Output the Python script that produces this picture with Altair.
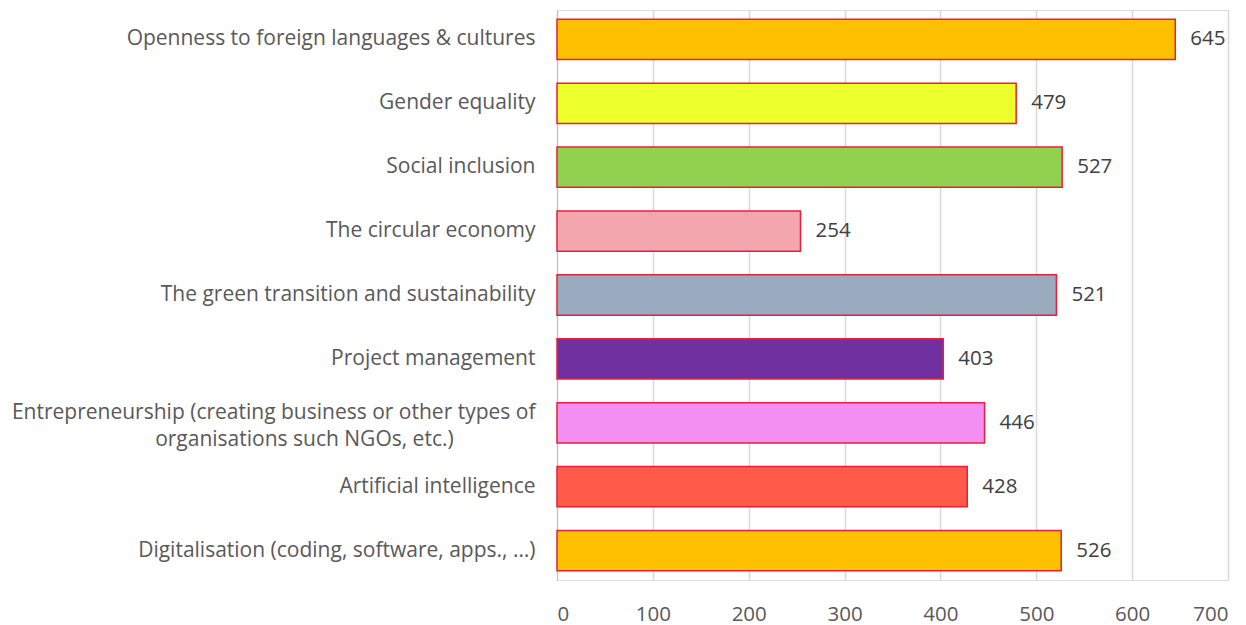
import altair as alt
import pandas as pd

categories = [
    "Openness to foreign languages & cultures",
    "Gender equality",
    "Social inclusion",
    "The circular economy",
    "The green transition and sustainability",
    "Project management",
    "Entrepreneurship (creating business or other types of|organisations such NGOs, etc.)",
    "Artificial intelligence",
    "Digitalisation (coding, software, apps., …)",
]
values = [645, 479, 527, 254, 521, 403, 446, 428, 526]
colors = ["#FFC000", "#EEFF2E", "#92D050", "#F4A6AE", "#9AAABF",
          "#7030A0", "#F48FF4", "#FF5A4A", "#FFC000"]

df = pd.DataFrame({"cat": categories, "val": values, "col": colors})

FONT = "Open Sans"
# non-breaking spaces followed by a zero-width space so they are not trimmed
NB = "\u00a0" * 15 + "\u200b"

label_expr = (
    "indexof(datum.label, '|') >= 0 ? "
    "[split(datum.label, '|')[0], split(datum.label, '|')[1] + '" + NB + "'] : datum.label"
)

y = alt.Y("cat:N", sort=categories, title=None,
          scale=alt.Scale(paddingInner=0.37, paddingOuter=0.145),
          axis=alt.Axis(labelExpr=label_expr, labelFontSize=21,
                        labelColor="#595959", labelFont=FONT, ticks=False,
                        labelPadding=22, domainColor="#BFBFBF", labelLimit=700,
                        labelLineHeight=27, grid=False,
                        labelOffset={"expr": "indexof(datum.label, '|') >= 0 ? -10 : 0"}))

x = alt.X("val:Q", title=None,
          scale=alt.Scale(domain=[0, 700]),
          axis=alt.Axis(values=list(range(0, 701, 100)), labelFontSize=20.5,
                        labelColor="#595959", labelFont=FONT, ticks=False,
                        domain=False, gridColor="#D9D9D9", gridWidth=1.5,
                        labelPadding=24))

bars = alt.Chart(df).mark_bar(stroke="#E8203A", strokeWidth=1.5).encode(
    x=x, y=y, color=alt.Color("col:N", scale=None)
)
text = alt.Chart(df).mark_text(align="left", dx=15, fontSize=20.5, font=FONT,
                               color="#404040").encode(
    x="val:Q", y=alt.Y("cat:N", sort=categories), text="val:Q"
)

chart = (bars + text).properties(width=671, height=570,
                                 padding={"left": 3, "top": 2, "right": 5, "bottom": 5}
                                 ).configure_view(stroke=None).configure(background="white")

chart.save("out.html", embed_options={"renderer": "svg", "actions": False})
